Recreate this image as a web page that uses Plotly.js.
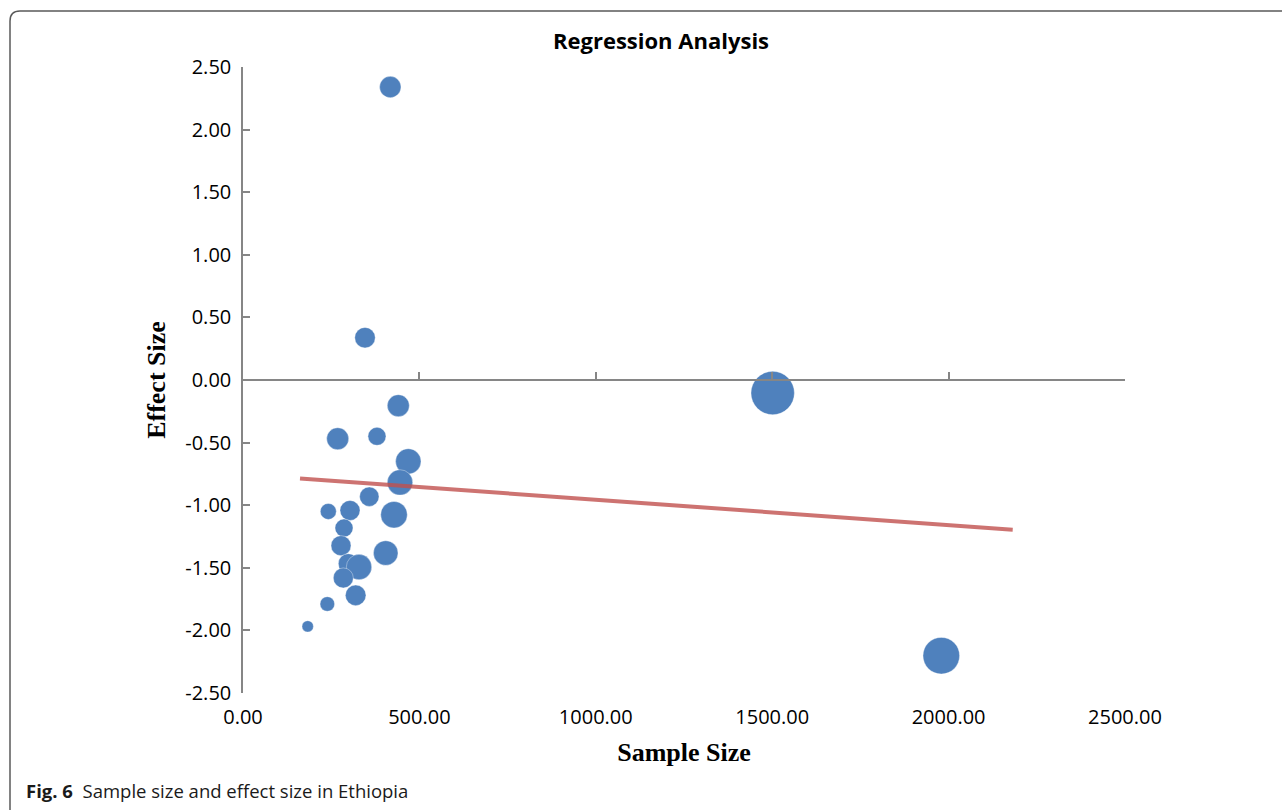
<!DOCTYPE html>
<html>
<head>
<meta charset="utf-8">
<script src="https://cdn.plot.ly/plotly-3.0.1.min.js"></script>
<style>
  html, body { margin: 0; padding: 0; background: #ffffff; }
  #chart { width: 1282px; height: 810px; }
</style>
</head>
<body>
<div id="chart"></div>
<script>
// ---- Data ----
var sampleSize = [417.5, 345.8, 440.2, 268.4, 379.8, 468.5, 445.0, 358.0, 241.8, 303.3, 428.0,
                  286.3, 277.8, 404.5, 298.5, 328.8, 284.3, 319.4, 239.0, 183.4, 1501.4, 1979.3];
var effectSize = [2.34, 0.338, -0.205, -0.469, -0.450, -0.650, -0.818, -0.932, -1.050, -1.042, -1.076,
                  -1.182, -1.323, -1.382, -1.467, -1.494, -1.581, -1.720, -1.789, -1.968, -0.104, -2.202];
var bubbleWeight = [21.4, 20.5, 22, 22, 18, 25.4, 25.4, 19.4, 16, 20, 26.6,
                    18, 20, 24.6, 20, 25.4, 20, 20.6, 14.6, 11.4, 43.4, 36.6];

var trendX = [161.6, 2181.7];
var trendY = [-0.786, -1.196];

var xTickVals = [0, 500, 1000, 1500, 2000, 2500];
var xTickText = ["0.00", "500.00", "1000.00", "1500.00", "2000.00", "2500.00"];
var yTickVals = [-2.5, -2, -1.5, -1, -0.5, 0, 0.5, 1, 1.5, 2, 2.5];
var yTickText = ["-2.50", "-2.00", "-1.50", "-1.00", "-0.50", "0.00", "0.50", "1.00", "1.50", "2.00", "2.50"];

var titleText = "Regression Analysis";
var xTitle = "Sample Size";
var yTitle = "Effect Size";
var captionText = "<b>Fig. 6</b>  Sample size and effect size in Ethiopia";

// ---- Layout geometry (pixels) ----
var W = 1282, H = 810;
var L = 243, R = 1125, T = 67, B = 693.3;
var pw = R - L, ph = B - T;
function px2x(p) { return (p - L) / pw; }
function px2y(p) { return (B - p) / ph; }

var axisGray = "#868686";

var bubbles = {
  type: "scatter",
  mode: "markers",
  x: sampleSize,
  y: effectSize,
  marker: {
    size: bubbleWeight,
    sizemode: "diameter",
    sizeref: 1,
    color: "#4F81BD",
    opacity: 1,
    line: { width: 0.6, color: "rgba(255,255,255,0.6)" }
  },
  hoverinfo: "x+y",
  showlegend: false
};

var trend = {
  type: "scatter",
  mode: "lines",
  x: trendX,
  y: trendY,
  line: { color: "rgba(192,80,77,0.8)", width: 4 },
  hoverinfo: "skip",
  showlegend: false
};

var zeroAxisHelper = {
  type: "scatter",
  mode: "markers",
  x: [],
  y: [],
  xaxis: "x2",
  yaxis: "y",
  hoverinfo: "skip",
  showlegend: false
};

// rounded figure frame
var r = 10;
var fx0 = px2x(10), fy0 = px2y(11), fx1 = px2x(1310), fy1 = px2y(830);
var rx = r / pw, ry = r / ph;
var framePath = "M " + fx1 + "," + fy0 +
  " L " + (fx0 + rx) + "," + fy0 +
  " Q " + fx0 + "," + fy0 + " " + fx0 + "," + (fy0 - ry) +
  " L " + fx0 + "," + fy1;

var layout = {
  width: W,
  height: H,
  margin: { l: L, r: W - R, t: T, b: H - B, pad: 0 },
  paper_bgcolor: "#ffffff",
  plot_bgcolor: "#ffffff",
  font: { family: "Open Sans, sans-serif", color: "#000000" },
  title: {
    text: "<b>" + titleText + "</b>",
    font: { family: "Open Sans, sans-serif", size: 22, color: "#000000" },
    xref: "paper",
    x: px2x(661),
    xanchor: "center",
    yref: "container",
    y: 1 - 41 / H,
    yanchor: "middle"
  },
  xaxis: {
    range: [0, 2500],
    tickvals: xTickVals,
    ticktext: xTickText,
    showline: false,
    showgrid: false,
    zeroline: false,
    ticks: "",
    ticklabelstandoff: 10,
    tickfont: { family: "Open Sans, sans-serif", size: 20, color: "#000000" },
    title: {
      text: "<b>" + xTitle + "</b>",
      font: { family: "Liberation Serif, Times New Roman, serif", size: 26, color: "#000000" },
      standoff: 13
    }
  },
  xaxis2: {
    overlaying: "x",
    anchor: "free",
    position: 0.5,
    range: [0, 2500],
    tickvals: xTickVals,
    showticklabels: false,
    showline: true,
    linecolor: axisGray,
    linewidth: 1.5,
    ticks: "inside",
    ticklen: 7,
    tickwidth: 1.5,
    tickcolor: axisGray,
    showgrid: false,
    zeroline: false
  },
  yaxis: {
    range: [-2.5, 2.5],
    tickvals: yTickVals,
    ticktext: yTickText,
    showline: true,
    linecolor: axisGray,
    linewidth: 1.5,
    ticks: "inside",
    ticklen: 7,
    tickwidth: 1.5,
    tickcolor: axisGray,
    showgrid: false,
    zeroline: false,
    tickfont: { family: "Open Sans, sans-serif", size: 20, color: "#000000" },
    ticklabelstandoff: 6,
    title: {
      text: "<b>" + yTitle + "</b>",
      font: { family: "Liberation Serif, Times New Roman, serif", size: 26, color: "#000000" },
      standoff: 12
    }
  },
  shapes: [
    {
      type: "path",
      xref: "paper",
      yref: "paper",
      path: framePath,
      line: { color: "#5a5a5a", width: 1.5 },
      layer: "below"
    }
  ],
  annotations: [
    {
      text: captionText,
      xref: "paper",
      yref: "paper",
      x: px2x(24),
      y: px2y(791),
      xanchor: "left",
      yanchor: "middle",
      showarrow: false,
      font: { family: "Open Sans, sans-serif", size: 18.5, color: "#1a1a1a" }
    }
  ]
};

Plotly.newPlot("chart", [bubbles, trend, zeroAxisHelper], layout, { displayModeBar: false, responsive: false });
</script>
</body>
</html>
